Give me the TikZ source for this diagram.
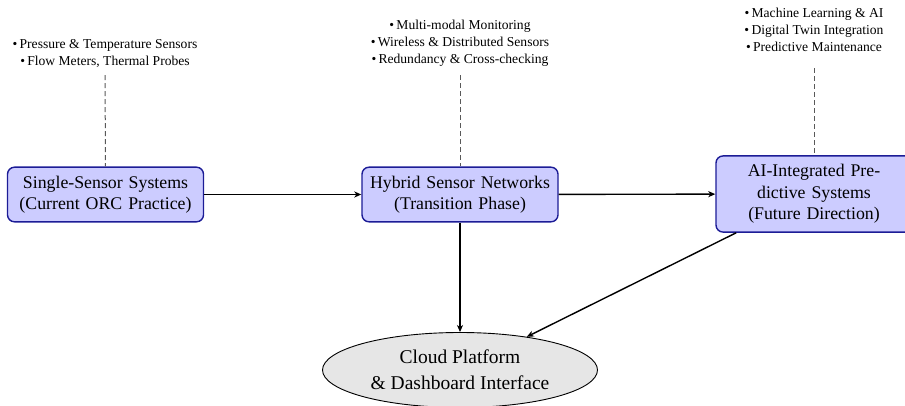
\documentclass[tikz,border=0pt]{standalone}
\usepackage{fontspec}
\setmainfont{Liberation Serif}
\usetikzlibrary{arrows.meta,shapes.geometric}
\definecolor{boxfill}{RGB}{204,204,255}
\definecolor{boxdraw}{RGB}{28,28,150}
\definecolor{cloudfill}{RGB}{230,230,230}
\tikzset{
  stagebox/.style={draw=boxdraw, fill=boxfill, line width=1.4pt, rounded corners=7pt,
    text width=180pt, inner xsep=8pt, inner ysep=8.5pt, align=center,
    font=\fontsize{17.8}{21.5}\selectfont},
  cloudnode/.style={ellipse, draw=black, line width=0.9pt, fill=cloudfill,
    minimum width=275pt, minimum height=75pt, inner sep=0pt, align=center,
    font=\fontsize{19.5}{26}\selectfont},
  annot/.style={align=center, inner sep=2pt, font=\fontsize{13.6}{17}\selectfont},
  flow/.style={line width=1.4pt, -{Stealth[length=7pt,width=6pt,inset=2pt]}},
  guide/.style={line width=1pt, black!65, dash pattern=on 5pt off 3pt}
}
\begin{document}
\begin{tikzpicture}[x=1pt,y=-1pt]
\useasboundingbox (0,0) rectangle (905,405);
\node[stagebox] (b1) at (105.5,194.5) {Single-Sensor Systems\\(Current ORC Practice)};
\node[stagebox] (b2) at (460,194.5) {Hybrid Sensor Networks\\(Transition Phase)};
\node[stagebox] (b3) at (814,194) {AI-Integrated Pre-\\dictive Systems\\(Future Direction)};
\node[cloudnode] (cloud) at (460,370) {Cloud Platform\\\& Dashboard Interface};
\node[annot, anchor=south] (a1) at (105,70) {\textbullet\,Pressure \& Temperature Sensors\\\textbullet\,Flow Meters, Thermal Probes};
\node[annot, anchor=south] (a2) at (460,69) {\textbullet\,Multi-modal Monitoring\\\textbullet\,Wireless \& Distributed Sensors\\\textbullet\,Redundancy \& Cross-checking};
\node[annot, anchor=south] (a3) at (814,54) {\textbullet\,Machine Learning \& AI\\\textbullet\,Digital Twin Integration\\\textbullet\,Predictive Maintenance};
\draw[guide, shorten <=5pt] (a1.south) -- (b1.north);
\draw[guide, shorten <=6pt] (a2.south) -- (b2.north);
\draw[guide, shorten <=14pt] (a3.south) -- (b3.north);
\draw[flow] (b1) -- (b2);
\draw[flow] (b2) -- (b3);
\draw[flow] (b2) -- (cloud);
\draw[flow] (b3) -- (cloud);
\end{tikzpicture}
\end{document}
